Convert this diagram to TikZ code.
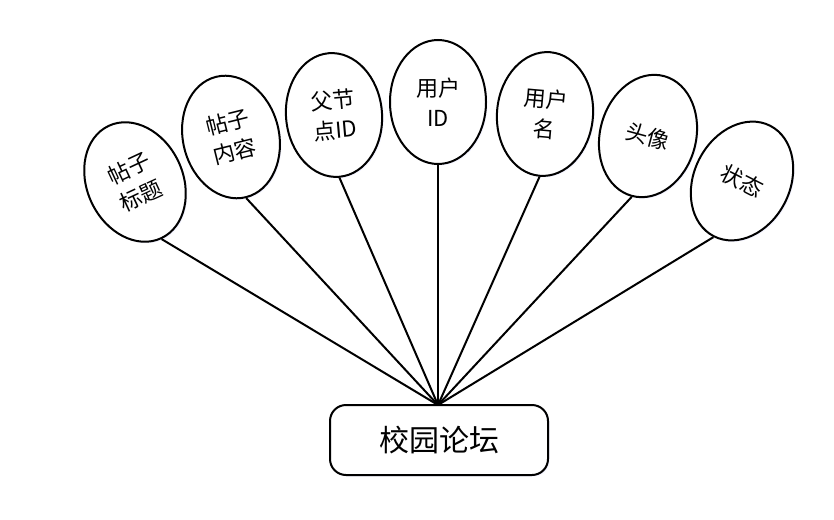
\documentclass[tikz,border=0pt]{standalone}
\usepackage{fontspec}
\newfontfamily\cjk{Noto Sans CJK SC}
\usetikzlibrary{shapes.geometric,shadows}
\tikzset{
  attr/.style={ellipse, draw, line width=2pt, fill=white, minimum width=96pt, minimum height=124pt, inner sep=0pt, align=center, font=\cjk\fontsize{22}{30}\selectfont, drop shadow={opacity=0.12, shadow xshift=1.5pt, shadow yshift=-1.5pt, fill=blue!40}},
  entity/.style={rectangle, rounded corners=16pt, draw, line width=2pt, fill=white, minimum width=218pt, minimum height=70pt, font=\cjk\fontsize{30}{32}\selectfont, drop shadow={opacity=0.12, shadow xshift=1.5pt, shadow yshift=-1.5pt, fill=blue!40}},
  link/.style={line width=2pt}
}
\begin{document}
\begin{tikzpicture}[x=1pt,y=1pt]
\useasboundingbox (0,0) rectangle (834,-519);
\node[entity] (r) at (439,-440) {校园论坛};
\node[attr, rotate=25] (e1) at (135,-182) {帖子\\标题};
\node[attr, rotate=14] (e2) at (231,-137) {帖子\\内容};
\node[attr, rotate=5] (e3) at (334,-115) {父节\\点ID};
\node[attr] (e4) at (438,-102) {用户\\ID};
\node[attr, rotate=-5] (e5) at (545,-114) {用户\\名};
\node[attr, rotate=-15] (e6) at (648,-136) {头像};
\node[attr, rotate=-27] (e7) at (742,-181) {状态};
\coordinate (apex) at (438,-405);
\foreach \e in {e1,e2,e3,e4,e5,e6,e7} \draw[link] (\e.south) -- (apex);
\end{tikzpicture}
\end{document}
